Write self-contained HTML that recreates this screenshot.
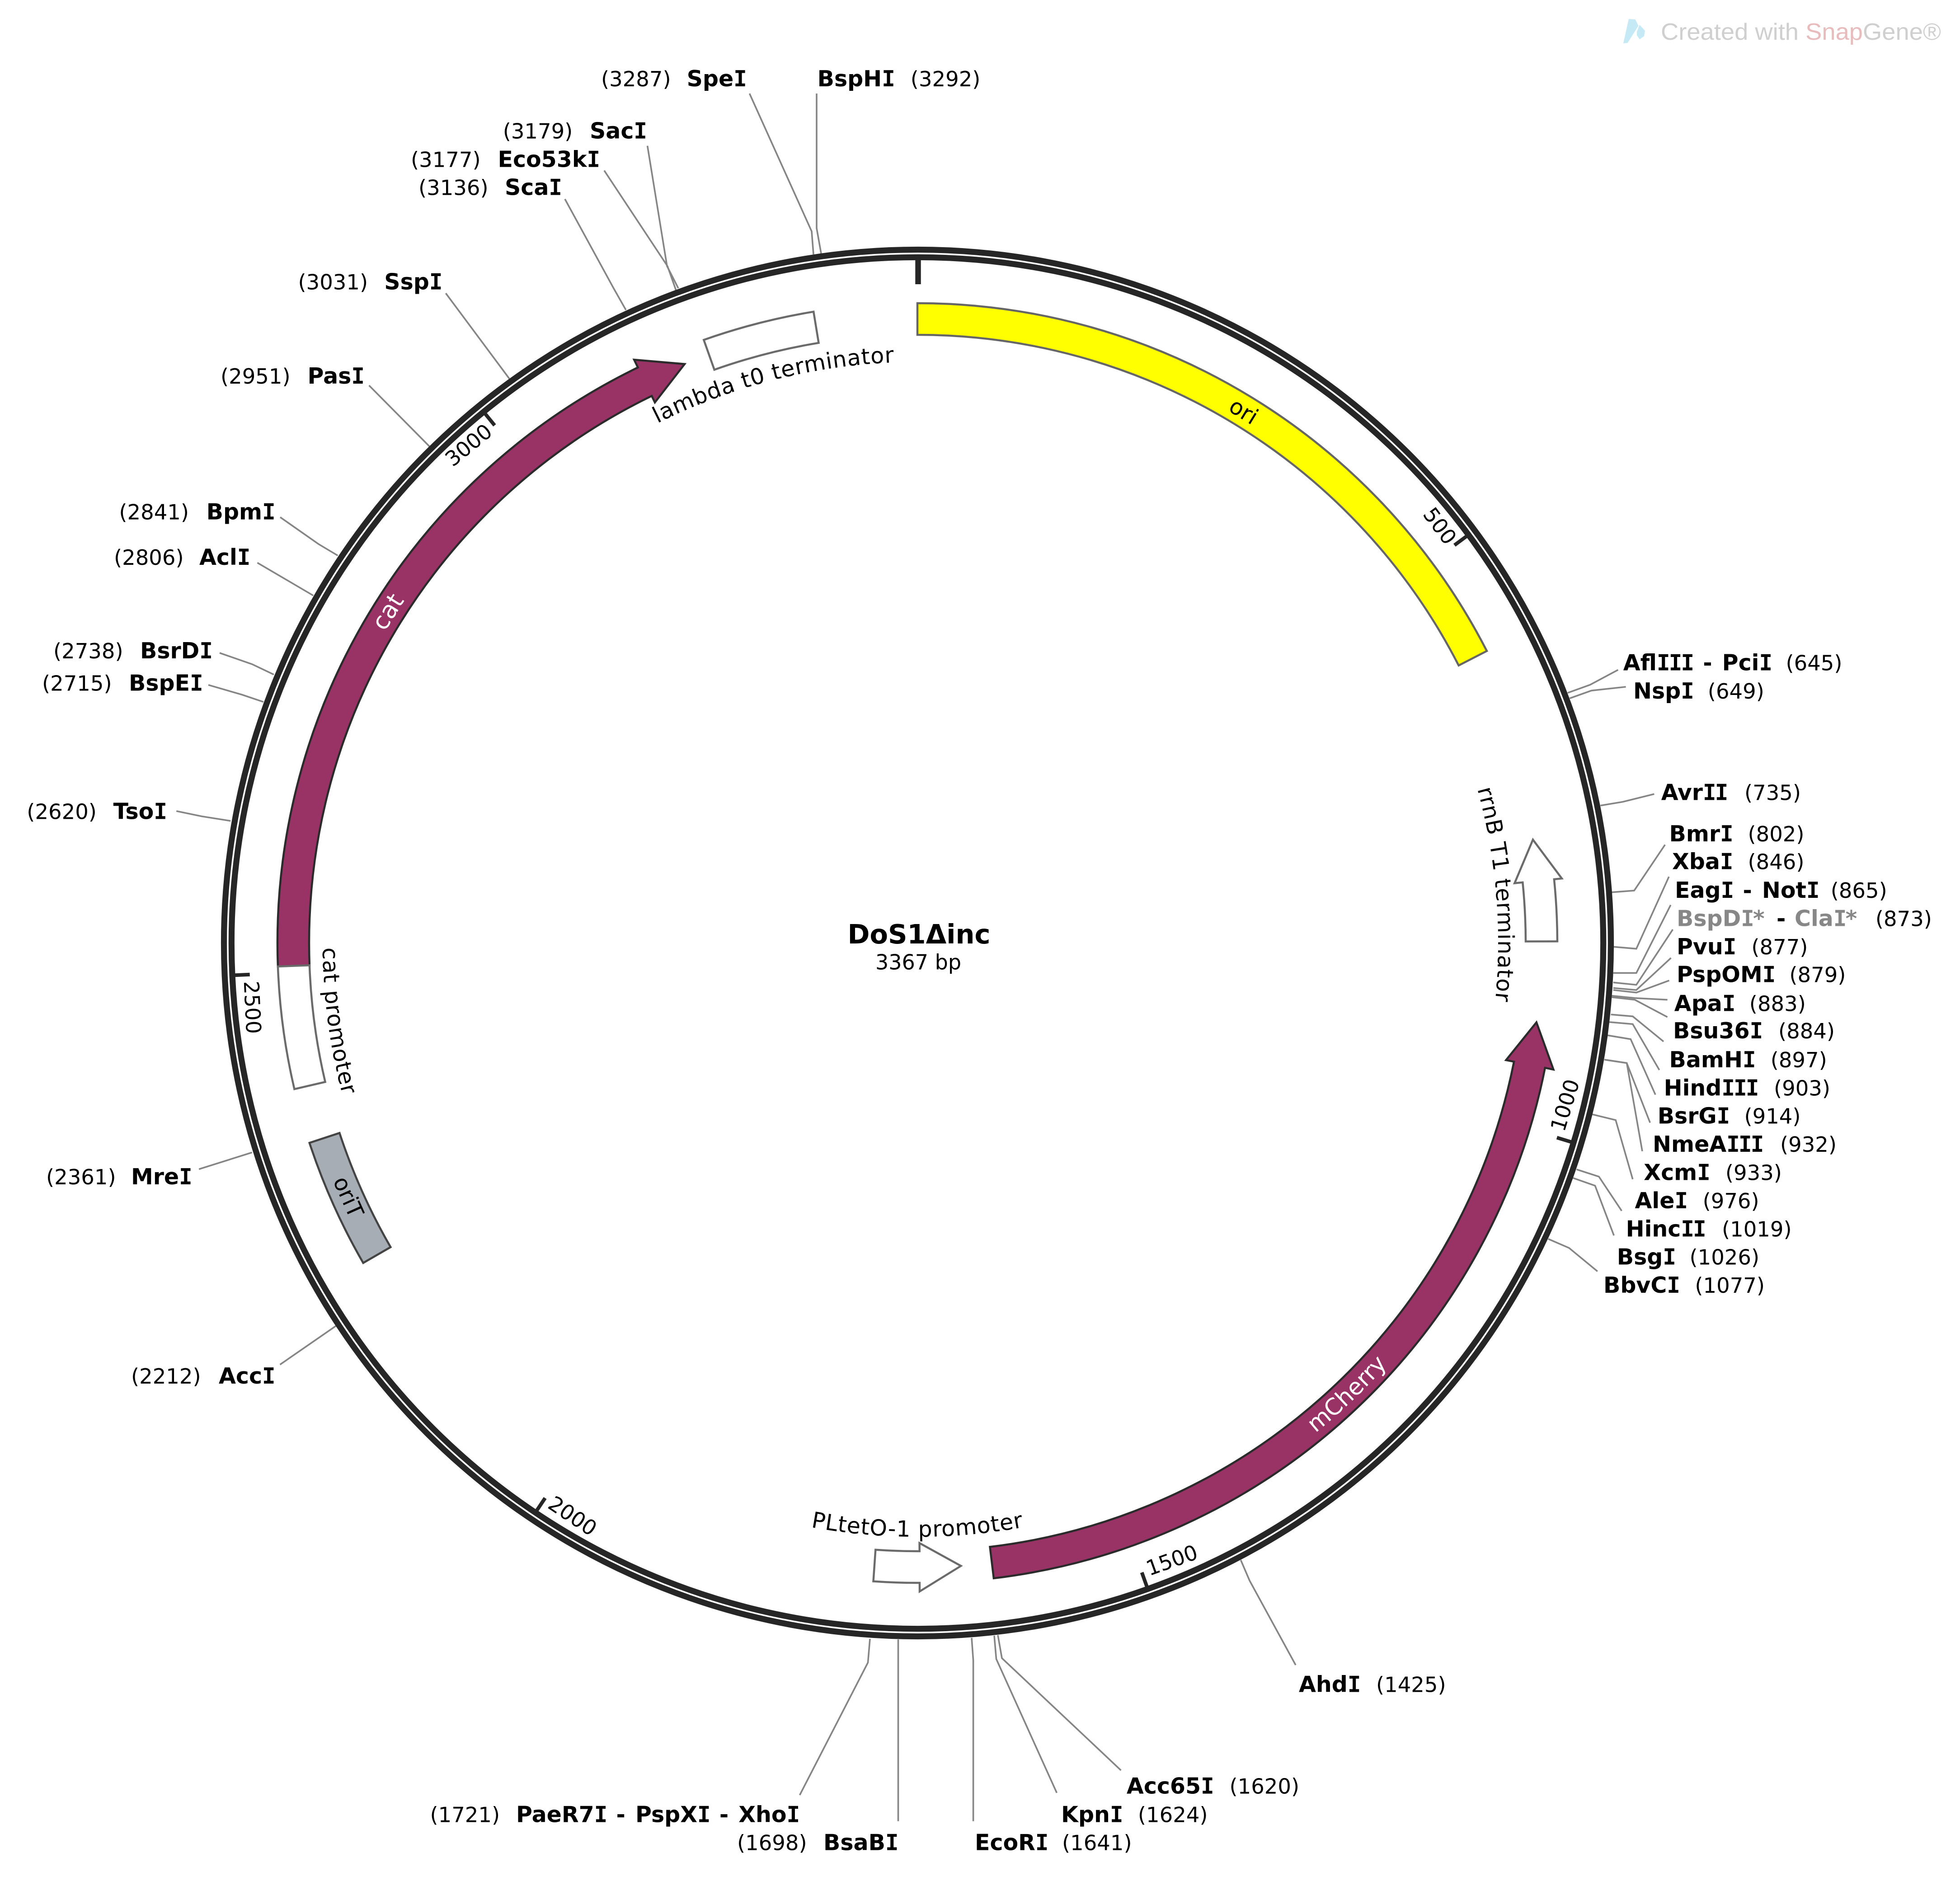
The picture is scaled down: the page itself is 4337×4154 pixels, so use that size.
<!DOCTYPE html>
<html><head><meta charset="utf-8"><title>DoS1Δinc</title>
<style>
html,body{margin:0;padding:0;background:#fff}
svg{display:block}
text{font-family:"DejaVu Sans","Liberation Sans",sans-serif;fill:#000}
.b{font-weight:bold;font-size:49px}
.r{font-size:46.5px}
.m{font-family:"DejaVu Sans Mono","Liberation Mono",monospace;letter-spacing:-.056em}
.g{fill:#878787}
.l{font-size:49px;letter-spacing:1px}
.t{font-size:46px}
.e{fill:none;stroke:#858585;stroke-width:3.6}
.tk{stroke:#262626;stroke-width:8}
.f{stroke-width:4.5;stroke-linejoin:miter}
.w{word-spacing:5px}
</style></head><body>
<svg xmlns="http://www.w3.org/2000/svg" width="4337" height="4154" viewBox="0 0 4337 4154">
<defs>
<path id="p1" d="M1303.2 1026.2A1286 1286 0 0 1 2155 807.1"/>
<path id="p2" d="M744.4 1805.5A1316 1316 0 0 0 864.3 2697.8"/>
<path id="p3" d="M3196.5 1548A1285 1285 0 0 1 3270.1 2423.9"/>
<path id="p4" d="M1580.6 3321.8A1314 1314 0 0 0 2479.4 3321.8"/>
<path id="p5" d="M2589.3 3367.2A1397 1397 0 0 0 3281.3 2708.2"/>
</defs>
<rect width="4337" height="4154" fill="#fff"/>

<!-- watermark -->
<path d="M3592 96L3604 42L3618.5 43L3625.5 57L3601.4 95Z" fill="#c6e9f6"/>
<path d="M3628 55L3640 68L3638 80L3628 87L3622 78L3622 70Z" fill="#c6e9f6"/>
<text x="3675" y="88" textLength="620" lengthAdjust="spacingAndGlyphs" style="font-family:'Liberation Sans',sans-serif;font-size:52px;fill:#cfcfcf">Created with <tspan style="fill:#e8bcbc">Snap</tspan>Gene®</text>

<!-- enzyme leader lines -->
<g class="e">
<polyline points="1658.5,207 1796,512 1800,563"/>
<polyline points="1807,207 1807,505 1817,561"/>
<polyline points="1432.6,322.7 1476,589 1501,638"/>
<polyline points="1337,377.4 1477,589 1495.7,642"/>
<polyline points="1250,440.5 1358,638.4 1385,686"/>
<polyline points="986.4,649 1127,838"/>
<polyline points="816.6,853 950,987.7"/>
<polyline points="620,1144.6 704.7,1204 747.4,1229.5"/>
<polyline points="569.5,1245.4 693.2,1318"/>
<polyline points="486,1445 558,1470 605.9,1492.9"/>
<polyline points="461,1515.8 535.7,1537.5 582.9,1553.4"/>
<polyline points="390.3,1795 446.4,1806.6 510.2,1816.8"/>
<polyline points="440.2,2587.5 557.7,2550.5"/>
<polyline points="619.6,3020 746.8,2932"/>
<polyline points="3580.4,1482.4 3518.3,1515.6 3468.7,1533.4"/>
<polyline points="3597.6,1520 3521.6,1528.3 3473.3,1545.5"/>
<polyline points="3660.4,1757.3 3591,1774.5 3541.4,1782.8"/>
<polyline points="3684.3,1869.5 3616.1,1970.9 3566.5,1974.7"/>
<polyline points="3692.9,1940.3 3620.8,2099.7 3569.8,2095.3"/>
<polyline points="3696.8,2002.8 3620.8,2153.3 3569.8,2153.3"/>
<polyline points="3701.5,2057 3620.8,2179.5 3569.8,2174.3"/>
<polyline points="3697.5,2120 3620.8,2191 3569.8,2186.5"/>
<polyline points="3693.5,2169.9 3620.8,2196.7 3569.8,2191"/>
<polyline points="3689.6,2212.6 3617.5,2208.8 3566.5,2203.7"/>
<polyline points="3689.6,2250.9 3617.5,2212.6 3566.5,2206.9"/>
<polyline points="3681,2305 3612.8,2249.3 3564.5,2245.2"/>
<polyline points="3671.7,2368 3612.8,2266.5 3561.2,2261.9"/>
<polyline points="3663,2422.6 3608.2,2299.8 3556.6,2291.2"/>
<polyline points="3651.2,2484.6 3599.6,2352.6 3550,2345.1"/>
<polyline points="3634,2547.8 3599.6,2352.6 3550,2345.1"/>
<polyline points="3612.8,2609.8 3575.1,2478.9 3523.5,2466.2"/>
<polyline points="3588.4,2679.8 3538,2604 3488.5,2588"/>
<polyline points="3571.2,2734.3 3529.5,2624.1 3480.6,2606.9"/>
<polyline points="3534.8,2813.6 3472,2761.9 3425.7,2741.8"/>
<polyline points="1769.6,3972.7 1920.5,3679.4 1925,3627"/>
<polyline points="1987.5,4030.5 1987.5,3628.3"/>
<polyline points="2153.6,4030.5 2153.6,3674.6 2150,3624.7"/>
<polyline points="2338.4,3967.8 2204.5,3671.5 2200,3619.8"/>
<polyline points="2480.4,3917.9 2217,3669.7 2208,3618.6"/>
<polyline points="2867,3684.9 2765,3498 2745.5,3452.5"/>
</g>

<!-- backbone -->
<circle cx="2030" cy="2087" r="1534.5" fill="none" stroke="#262626" stroke-width="13.2"/>
<circle cx="2030" cy="2087" r="1517.7" fill="none" stroke="#262626" stroke-width="13.2"/>

<!-- ticks -->
<line x1="2031.5" y1="570" x2="2031.5" y2="629" stroke="#262626" stroke-width="12.4"/>
<line class="tk" x1="3245.7" y1="1186.3" x2="3218.4" y2="1206.6"/>
<line class="tk" x1="3477.5" y1="2527.6" x2="3445" y2="2517.7"/>
<line class="tk" x1="2538" y1="3512" x2="2526.6" y2="3480"/>
<line class="tk" x1="1187.3" y1="3343.5" x2="1206.2" y2="3315.3"/>
<line class="tk" x1="518.7" y1="2158.3" x2="552.7" y2="2156.7"/>
<line class="tk" x1="1073" y1="915" x2="1094.5" y2="941.4"/>
<g text-anchor="middle">
<text class="t" transform="translate(3186 1164) rotate(53.46)" y="16">500</text>
<text class="t" transform="translate(3463 2446) rotate(-73.07)" y="16">1000</text>
<text class="t" transform="translate(2593 3453) rotate(-19.62)" y="16">1500</text>
<text class="t" transform="translate(1267 3355) rotate(33.85)" y="16">2000</text>
<text class="t" transform="translate(558.5 2229.5) rotate(87.3)" y="16">2500</text>
<text class="t" transform="translate(1037 985) rotate(-39.23)" y="16">3000</text>
</g>

<!-- features -->
<path class="f" fill="#ffff00" stroke="#666" d="M2030 671A1416 1416 0 0 1 3290 1440.7L3227.7 1472.7A1346 1346 0 0 0 2030 741Z"/>
<path class="f" fill="#993366" stroke="#2b2b2b" d="M614.9 2138.9A1416 1416 0 0 1 1411.5 813.2L1403.2 796.1L1514.9 805.7L1449.1 890.6L1442.1 876.2A1346 1346 0 0 0 684.9 2136.3Z"/>
<path class="f" fill="#993366" stroke="#2b2b2b" d="M2198.9 3492.9A1416 1416 0 0 0 3418.8 2363.2L3437.4 2367L3399.8 2262.5L3332.5 2346.1L3350.1 2349.6A1346 1346 0 0 1 2190.5 3423.4Z"/>
<path class="f" fill="#fff" stroke="#6b6b6b" d="M1557.3 752.2A1416 1416 0 0 1 1800.2 689.8L1811.5 758.8A1346 1346 0 0 0 1580.7 818.2Z"/>
<path class="f" fill="#fff" stroke="#6b6b6b" d="M614.9 2138.9L684.9 2136.3A1346 1346 0 0 0 719.6 2394.4L651.4 2410.3A1416 1416 0 0 1 614.9 2138.9Z"/>
<path class="f" fill="#a6adb4" stroke="#444" d="M684.8 2529.3L751.3 2507.4A1346 1346 0 0 0 864.3 2760L803.7 2795A1416 1416 0 0 1 684.8 2529.3Z"/>
<path class="f" fill="#fff" stroke="#6b6b6b" d="M3376 2083.5L3446 2083.3A1416 1416 0 0 0 3438.9 1945.9L3455.9 1944.2L3392 1858.3L3351.4 1954.6L3369.3 1952.8A1346 1346 0 0 1 3376 2083.5Z"/>
<path class="f" fill="#fff" stroke="#6b6b6b" d="M1937.3 3429.8A1346 1346 0 0 0 2034.7 3433L2034.6 3415L2126.3 3465.5L2035 3522L2034.9 3503A1416 1416 0 0 1 1932.5 3499.6Z"/>

<!-- feature labels -->
<text text-anchor="middle" transform="translate(2752 910) rotate(31.4)" y="17" style="font-size:49px">ori</text>
<text text-anchor="middle" transform="translate(858 1354) rotate(-57.8)" y="18" style="fill:#fff;font-size:53px">cat</text>
<text text-anchor="middle" transform="translate(771 2649) rotate(65.9)" y="17" style="font-size:49px">oriT</text>
<text class="l" text-anchor="middle"><textPath href="#p1" startOffset="50%">lambda t0 terminator</textPath></text>
<text class="l" text-anchor="middle"><textPath href="#p2" startOffset="50%">cat promoter</textPath></text>
<text class="l" text-anchor="middle"><textPath href="#p3" startOffset="50%">rrnB T1 terminator</textPath></text>
<text class="l" text-anchor="middle"><textPath href="#p4" startOffset="50%">PLtetO-1 promoter</textPath></text>
<text text-anchor="middle" style="fill:#fff;font-size:51px"><textPath href="#p5" startOffset="50%">mCherry</textPath></text>

<!-- center -->
<text text-anchor="middle" x="2033.5" y="2088" style="font-weight:bold;font-size:59px">DoS1Δinc</text>
<text class="t" text-anchor="middle" x="2032" y="2145.7">3367 bp</text>

<!-- enzyme labels -->
<text class="r" x="1330" y="190.8">(3287)</text><text class="b" x="1519.6" y="190.8">Spe<tspan class="m">I</tspan></text>
<text class="b" x="1808.6" y="190.8">BspH<tspan class="m">I</tspan></text><text class="r" x="2014.8" y="190.8">(3292)</text>
<text class="r" x="1112.7" y="306.6">(3179)</text><text class="b" x="1305" y="306.6">Sac<tspan class="m">I</tspan></text>
<text class="r" x="909" y="369.7">(3177)</text><text class="b" x="1101.5" y="369.7">Eco53k<tspan class="m">I</tspan></text>
<text class="r" x="926" y="431.4">(3136)</text><text class="b" x="1117" y="431.4">Sca<tspan class="m">I</tspan></text>
<text class="r" x="659.5" y="640.5">(3031)</text><text class="b" x="850.3" y="640.5">Ssp<tspan class="m">I</tspan></text>
<text class="r" x="488" y="848.8">(2951)</text><text class="b" x="680.5" y="848.8">Pas<tspan class="m">I</tspan></text>
<text class="r" x="263.4" y="1149.7">(2841)</text><text class="b" x="456.6" y="1149.7">Bpm<tspan class="m">I</tspan></text>
<text class="r" x="252" y="1249.9">(2806)</text><text class="b" x="441" y="1249.9">Acl<tspan class="m">I</tspan></text>
<text class="r" x="118" y="1457">(2738)</text><text class="b" x="310" y="1457">BsrD<tspan class="m">I</tspan></text>
<text class="r" x="93" y="1528.6">(2715)</text><text class="b" x="285" y="1528.6">BspE<tspan class="m">I</tspan></text>
<text class="r" x="59.3" y="1812.4">(2620)</text><text class="b" x="250.6" y="1812.4">Tso<tspan class="m">I</tspan></text>
<text class="r" x="102" y="2621">(2361)</text><text class="b" x="290" y="2621">Mre<tspan class="m">I</tspan></text>
<text class="r" x="290" y="3062">(2212)</text><text class="b" x="484" y="3062">Acc<tspan class="m">I</tspan></text>

<text class="b w" x="3591.7" y="1483.7">Afl<tspan class="m">III</tspan> - Pci<tspan class="m">I</tspan></text><text class="r" x="3951.5" y="1483.7">(645)</text>
<text class="b" x="3614" y="1546.2">Nsp<tspan class="m">I</tspan></text><text class="r" x="3778.8" y="1546.2">(649)</text>
<text class="b" x="3675.7" y="1770.7">Avr<tspan class="m">II</tspan></text><text class="r" x="3860" y="1770.7">(735)</text>
<text class="b" x="3693.5" y="1861.9">Bmr<tspan class="m">I</tspan></text><text class="r" x="3867.5" y="1861.9">(802)</text>
<text class="b" x="3700" y="1923.7">Xba<tspan class="m">I</tspan></text><text class="r" x="3867.5" y="1923.7">(846)</text>
<text class="b w" x="3706" y="1986.9">Eag<tspan class="m">I</tspan> - Not<tspan class="m">I</tspan></text><text class="r" x="4050.7" y="1986.9">(865)</text>
<text class="b" x="3710" y="2049.4"><tspan class="g">BspD</tspan><tspan class="m g">I</tspan><tspan class="g" style="letter-spacing:3px">*</tspan><tspan x="3931">-</tspan><tspan class="g" x="3971">Cla</tspan><tspan class="m g">I</tspan><tspan class="g">*</tspan></text><text class="r" x="4149.9" y="2049.4">(873)</text>
<text class="b" x="3710" y="2111.9">Pvu<tspan class="m">I</tspan></text><text class="r" x="3875.4" y="2111.9">(877)</text>
<text class="b" x="3710" y="2173.7">PspOM<tspan class="m">I</tspan></text><text class="r" x="3959.4" y="2173.7">(879)</text>
<text class="b" x="3704.8" y="2237.5">Apa<tspan class="m">I</tspan></text><text class="r" x="3870.8" y="2237.5">(883)</text>
<text class="b" x="3702" y="2298">Bsu36<tspan class="m">I</tspan></text><text class="r" x="3935" y="2298">(884)</text>
<text class="b" x="3693.5" y="2361.8">BamH<tspan class="m">I</tspan></text><text class="r" x="3917.7" y="2361.8">(897)</text>
<text class="b" x="3681.6" y="2424.3">Hind<tspan class="m">III</tspan></text><text class="r" x="3925" y="2424.3">(903)</text>
<text class="b" x="3667.7" y="2486.3">BsrG<tspan class="m">I</tspan></text><text class="r" x="3859.5" y="2486.3">(914)</text>
<text class="b" x="3657" y="2549">NmeA<tspan class="m">III</tspan></text><text class="r" x="3939" y="2549">(932)</text>
<text class="b" x="3637.3" y="2611.5">Xcm<tspan class="m">I</tspan></text><text class="r" x="3817.9" y="2611.5">(933)</text>
<text class="b" x="3617.5" y="2674">Ale<tspan class="m">I</tspan></text><text class="r" x="3767.6" y="2674">(976)</text>
<text class="b" x="3597.6" y="2736.6">Hinc<tspan class="m">II</tspan></text><text class="r" x="3810" y="2736.6">(1019)</text>
<text class="b" x="3577.8" y="2798.6">Bsg<tspan class="m">I</tspan></text><text class="r" x="3738.5" y="2798.6">(1026)</text>
<text class="b" x="3548" y="2861">BbvC<tspan class="m">I</tspan></text><text class="r" x="3750.4" y="2861">(1077)</text>

<text class="b" x="2874" y="3744.5">Ahd<tspan class="m">I</tspan></text><text class="r" x="3045" y="3744.5">(1425)</text>
<text class="b" x="2492.9" y="3969.7">Acc65<tspan class="m">I</tspan></text><text class="r" x="2720.5" y="3969.7">(1620)</text>
<text class="b" x="2348" y="4032.3">Kpn<tspan class="m">I</tspan></text><text class="r" x="2517.9" y="4032.3">(1624)</text>
<text class="b" x="2157" y="4094.4">EcoR<tspan class="m">I</tspan></text><text class="r" x="2350" y="4094.4">(1641)</text>
<text class="b" x="1822" y="4094.4">BsaB<tspan class="m">I</tspan></text><text class="r" x="1631" y="4094.4">(1698)</text>
<text class="b w" x="1142" y="4032.3">PaeR7<tspan class="m">I</tspan> - PspX<tspan class="m">I</tspan> - Xho<tspan class="m">I</tspan></text><text class="r" x="951.5" y="4032.3">(1721)</text>
</svg>
</body></html>
